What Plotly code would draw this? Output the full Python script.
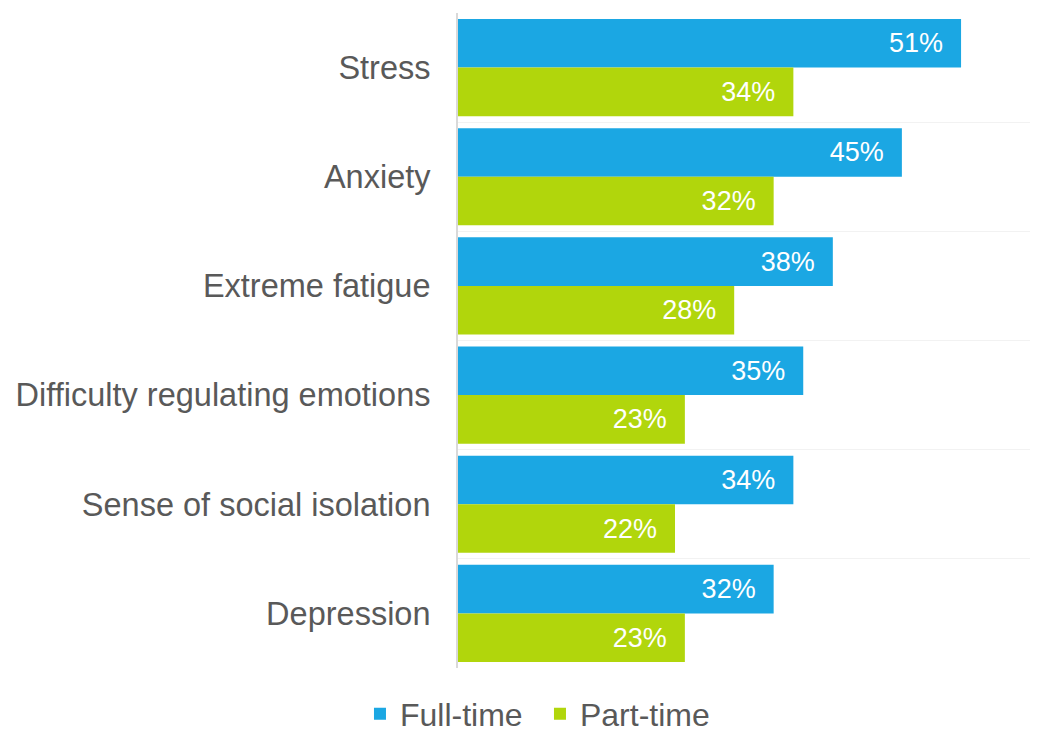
import plotly.graph_objects as go

categories = ["Stress", "Anxiety", "Extreme fatigue", "Difficulty regulating emotions",
              "Sense of social isolation", "Depression"]
full_time = [51, 45, 38, 35, 34, 32]
part_time = [34, 32, 28, 23, 22, 23]
series_names = ["Full-time", "Part-time"]
colors = ["#1BA7E3", "#B1D60C"]

pos = list(range(len(categories)))
fig = go.Figure()
for name, vals, col in zip(series_names, [full_time, part_time], colors):
    fig.add_trace(go.Bar(
        y=pos, x=vals, orientation="h", name=name,
        marker=dict(color=col, line=dict(width=0)),
        text=[f"{v}%\u00a0\u00a0" for v in vals],
        textposition="inside", insidetextanchor="end",
        textfont=dict(color="white", size=27, family="Liberation Sans"),
        hoverinfo="skip",
    ))

fig.update_layout(
    width=1030, height=727,
    margin=dict(l=450, r=0, t=5, b=67),
    paper_bgcolor="white", plot_bgcolor="white",
    barmode="group", bargap=0.11, bargroupgap=0,
    font=dict(family="Liberation Sans", color="#595959", size=32.5),
    xaxis=dict(range=[0, 58.8], showgrid=False, showticklabels=False,
               zeroline=False, showline=False, ticks=""),
    yaxis=dict(range=[5.5, -0.5], tickmode="array", tickvals=pos, ticktext=categories,
               showgrid=False, zeroline=False, showline=True, linecolor="#D9D9D9",
               linewidth=2, ticks="", ticklabelstandoff=19,
               tickfont=dict(size=32.5, color="#595959"),
               minor=dict(tickmode="array", tickvals=[p - 0.5 for p in pos] + [len(pos) - 0.5],
                          showgrid=True, gridcolor="#F2F2F2", gridwidth=1, ticks="")),
    legend=dict(orientation="h", x=-0.169, xanchor="left",
                yref="container", y=0.029, yanchor="middle",
                font=dict(size=32, color="#595959"), traceorder="normal",
                entrywidth=135),
)

fig.write_html("out.html")
